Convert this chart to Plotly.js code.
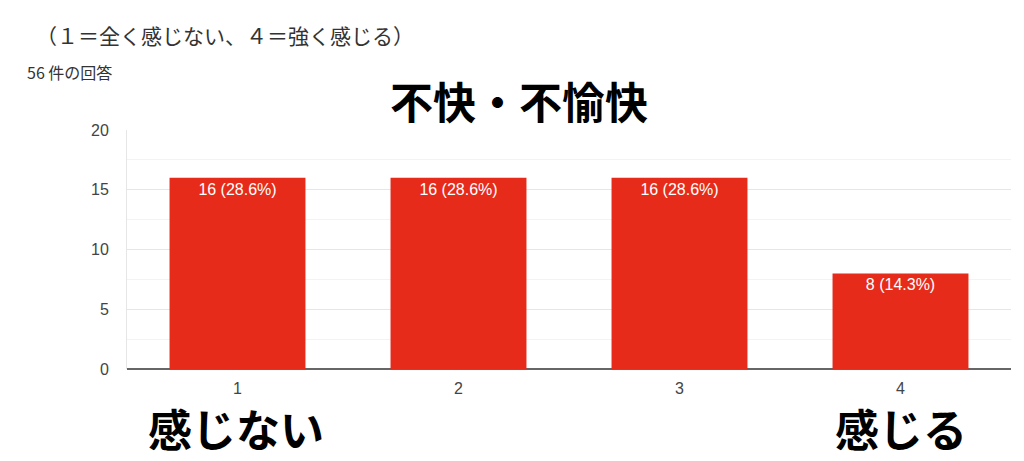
<!DOCTYPE html>
<html><head><meta charset="utf-8">
<script src="https://cdn.plot.ly/plotly-3.0.1.min.js"></script>
<style>html,body{margin:0;padding:0;background:#fff}#chart{width:1024px;height:461px}</style>
</head><body><div id="chart"></div>
<script>
const categories = ["1", "2", "3", "4"];
const counts = [16, 16, 16, 8];
const percents = ["28.6%", "28.6%", "28.6%", "14.3%"];
const yTicks = [0, 5, 10, 15, 20];
const titleText = "不快・不愉快";
const noteText = "（１＝全く感じない、４＝強く感じる）";
const responsesText = "56 件の回答";
const lowLabel = "感じない";
const highLabel = "感じる";

const labels = counts.map((c, i) => `${c} (${percents[i]})`);

const trace = {
  type: 'bar',
  x: categories,
  y: counts,
  text: labels,
  textposition: 'inside',
  insidetextanchor: 'end',
  textangle: 0,
  textfont: {color: '#ffffff', size: 16, family: 'Liberation Sans, Arial, sans-serif'},
  marker: {color: '#e62b1a'},
  hoverinfo: 'none',
  cliponaxis: false
};

const L = 127, R = 1011, T = 130, B = 369;
const px = v => (v - L) / (R - L);
const py = v => (B - v) / (B - T);

const layout = {
  width: 1024, height: 461,
  margin: {l: L, r: 1024 - R, t: T, b: 461 - B},
  paper_bgcolor: '#fff', plot_bgcolor: '#fff',
  bargap: 0.385,
  showlegend: false,
  font: {family: 'Liberation Sans, Arial, sans-serif', color: '#444'},
  xaxis: {
    type: 'category',
    range: [-0.5, 3.5],
    tickfont: {size: 16, color: '#444'},
    showgrid: false,
    ticks: 'outside', ticklen: 5, tickcolor: 'rgba(0,0,0,0)',
    showline: false,
    zeroline: false
  },
  yaxis: {
    range: [0, 20],
    tickvals: yTicks,
    tickfont: {size: 16, color: '#444'},
    ticklabelstandoff: 14,
    showgrid: true,
    gridcolor: '#e6e6e6',
    minor: {dtick: 2.5, showgrid: true, gridcolor: '#f3f3f3'},
    zeroline: true, zerolinecolor: '#666', zerolinewidth: 1.5,
    showline: true, linecolor: '#e6e6e6', linewidth: 1
  },
  annotations: [
    {text: noteText, xref: 'paper', yref: 'paper', x: px(34), y: py(35), xanchor: 'left', yanchor: 'middle', showarrow: false,
     font: {size: 21, color: '#333', family: 'Noto Sans CJK JP, sans-serif'}},
    {text: responsesText, xref: 'paper', yref: 'paper', x: px(25), y: py(72), xanchor: 'left', yanchor: 'middle', showarrow: false,
     font: {size: 16, color: '#333', family: 'Noto Sans CJK JP, sans-serif'}},
    {text: '<b>' + titleText + '</b>', xref: 'paper', yref: 'paper', x: px(519), y: py(100), xanchor: 'center', yanchor: 'middle', showarrow: false,
     font: {size: 43, color: '#000', family: 'Noto Sans CJK JP, sans-serif'}},
    {text: '<b>' + lowLabel + '</b>', xref: 'paper', yref: 'paper', x: px(236), y: py(428), xanchor: 'center', yanchor: 'middle', showarrow: false,
     height: 46, valign: 'middle',
     font: {size: 44, color: '#000', family: 'Noto Sans CJK JP, sans-serif'}},
    {text: '<b>' + highLabel + '</b>', xref: 'paper', yref: 'paper', x: px(901), y: py(428), xanchor: 'center', yanchor: 'middle', showarrow: false,
     height: 46, valign: 'middle',
     font: {size: 44, color: '#000', family: 'Noto Sans CJK JP, sans-serif'}}
  ]
};

Plotly.newPlot('chart', [trace], layout, {staticPlot: true, displayModeBar: false});
</script></body></html>
